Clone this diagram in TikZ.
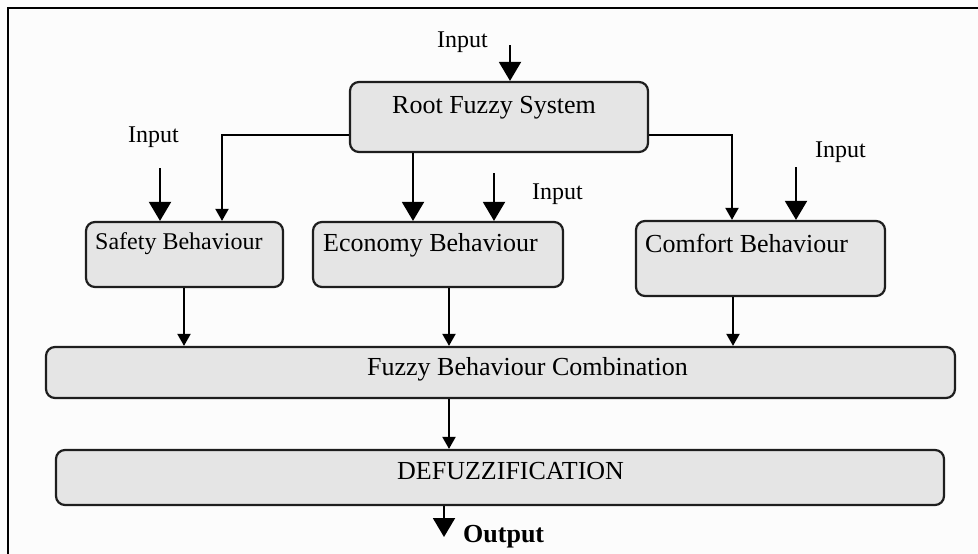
\documentclass[tikz,border=0pt]{standalone}
\usepackage{fontspec}
\setmainfont{Liberation Serif}
\usetikzlibrary{arrows.meta}
\definecolor{boxfill}{HTML}{E5E5E5}
\definecolor{boxline}{HTML}{1E1E1E}
\definecolor{bg}{HTML}{FCFCFC}
\begin{document}
\begin{tikzpicture}[x=1pt,y=-1pt,
  blk/.style={draw=boxline,fill=boxfill,line width=2.2pt,rounded corners=9pt,inner sep=0pt},
  lbl/.style={anchor=base west,inner sep=0pt,font=\fontsize{26}{30}\selectfont},
  smalllbl/.style={anchor=base west,inner sep=0pt,font=\fontsize{24}{28}\selectfont},
  bigarr/.style={line width=2pt,-{Triangle[width=22pt,length=19pt]}},
  smallarr/.style={line width=2pt,-{Triangle[width=13pt,length=12pt]}}]
% canvas
\fill[bg] (0,0) rectangle (978,554);
\useasboundingbox (0,0) rectangle (978,554);
\draw[line width=2.5pt,black] (8,554) -- (8,8) -- (978,8);
% boxes
\node[blk,minimum width=298pt,minimum height=70pt] (root) at (499,117) {};
\node[blk,minimum width=197pt,minimum height=65pt] (safety) at (184.5,254.5) {};
\node[blk,minimum width=250pt,minimum height=65pt] (econ) at (438,254.5) {};
\node[blk,minimum width=249pt,minimum height=75pt] (comfort) at (760.5,258.5) {};
\node[blk,minimum width=909pt,minimum height=51pt] (fbc) at (500.5,372.5) {};
\node[blk,minimum width=888pt,minimum height=55pt] (defuzz) at (500,477.5) {};
% texts
\node[lbl] (roott) at (392,113) {Root Fuzzy System};
\node[smalllbl] (safetyt) at (95,249) {Safety Behaviour};
\node[lbl] (econt) at (323,251) {Economy Behaviour};
\node[lbl] (comfortt) at (645,252) {Comfort Behaviour};
\node[lbl] (fbct) at (367,375) {Fuzzy Behaviour Combination};
\node[lbl] (defuzzt) at (397,479) {DEFUZZIFICATION};
\node[smalllbl] (intop) at (437,47) {Input};
\node[smalllbl] (insafe) at (128,142) {Input};
\node[smalllbl] (inecon) at (532,199) {Input};
\node[smalllbl] (incomf) at (815,157) {Input};
\node[lbl,font=\fontsize{26}{30}\selectfont\bfseries] (outt) at (463,542) {Output};
% input arrow start points
\coordinate (cTop) at (510,45);
\coordinate (cSafe) at (160,168);
\coordinate (cEcon) at (494,173);
\coordinate (cComf) at (796,167);
\coordinate (cOut) at (444,537);
% connectors
\draw[bigarr] (cTop) -- (cTop |- root.north);
\draw[bigarr] (cSafe) -- (cSafe |- safety.north);
\draw[bigarr] (cEcon) -- (cEcon |- econ.north);
\draw[bigarr] (cComf) -- (cComf |- comfort.north);
\draw[smallarr] (root.west |- 0,135) -| (222,0 |- safety.north);
\draw[bigarr] (413,0 |- root.south) -- (413,0 |- econ.north);
\draw[smallarr] (root.east |- 0,135) -| (732,0 |- comfort.north);
\draw[smallarr] (184,0 |- safety.south) -- (184,0 |- fbc.north);
\draw[smallarr] (449,0 |- econ.south) -- (449,0 |- fbc.north);
\draw[smallarr] (733,0 |- comfort.south) -- (733,0 |- fbc.north);
\draw[smallarr] (449,0 |- fbc.south) -- (449,0 |- defuzz.north);
\draw[bigarr] (444,0 |- defuzz.south) -- (cOut);
\end{tikzpicture}
\end{document}
